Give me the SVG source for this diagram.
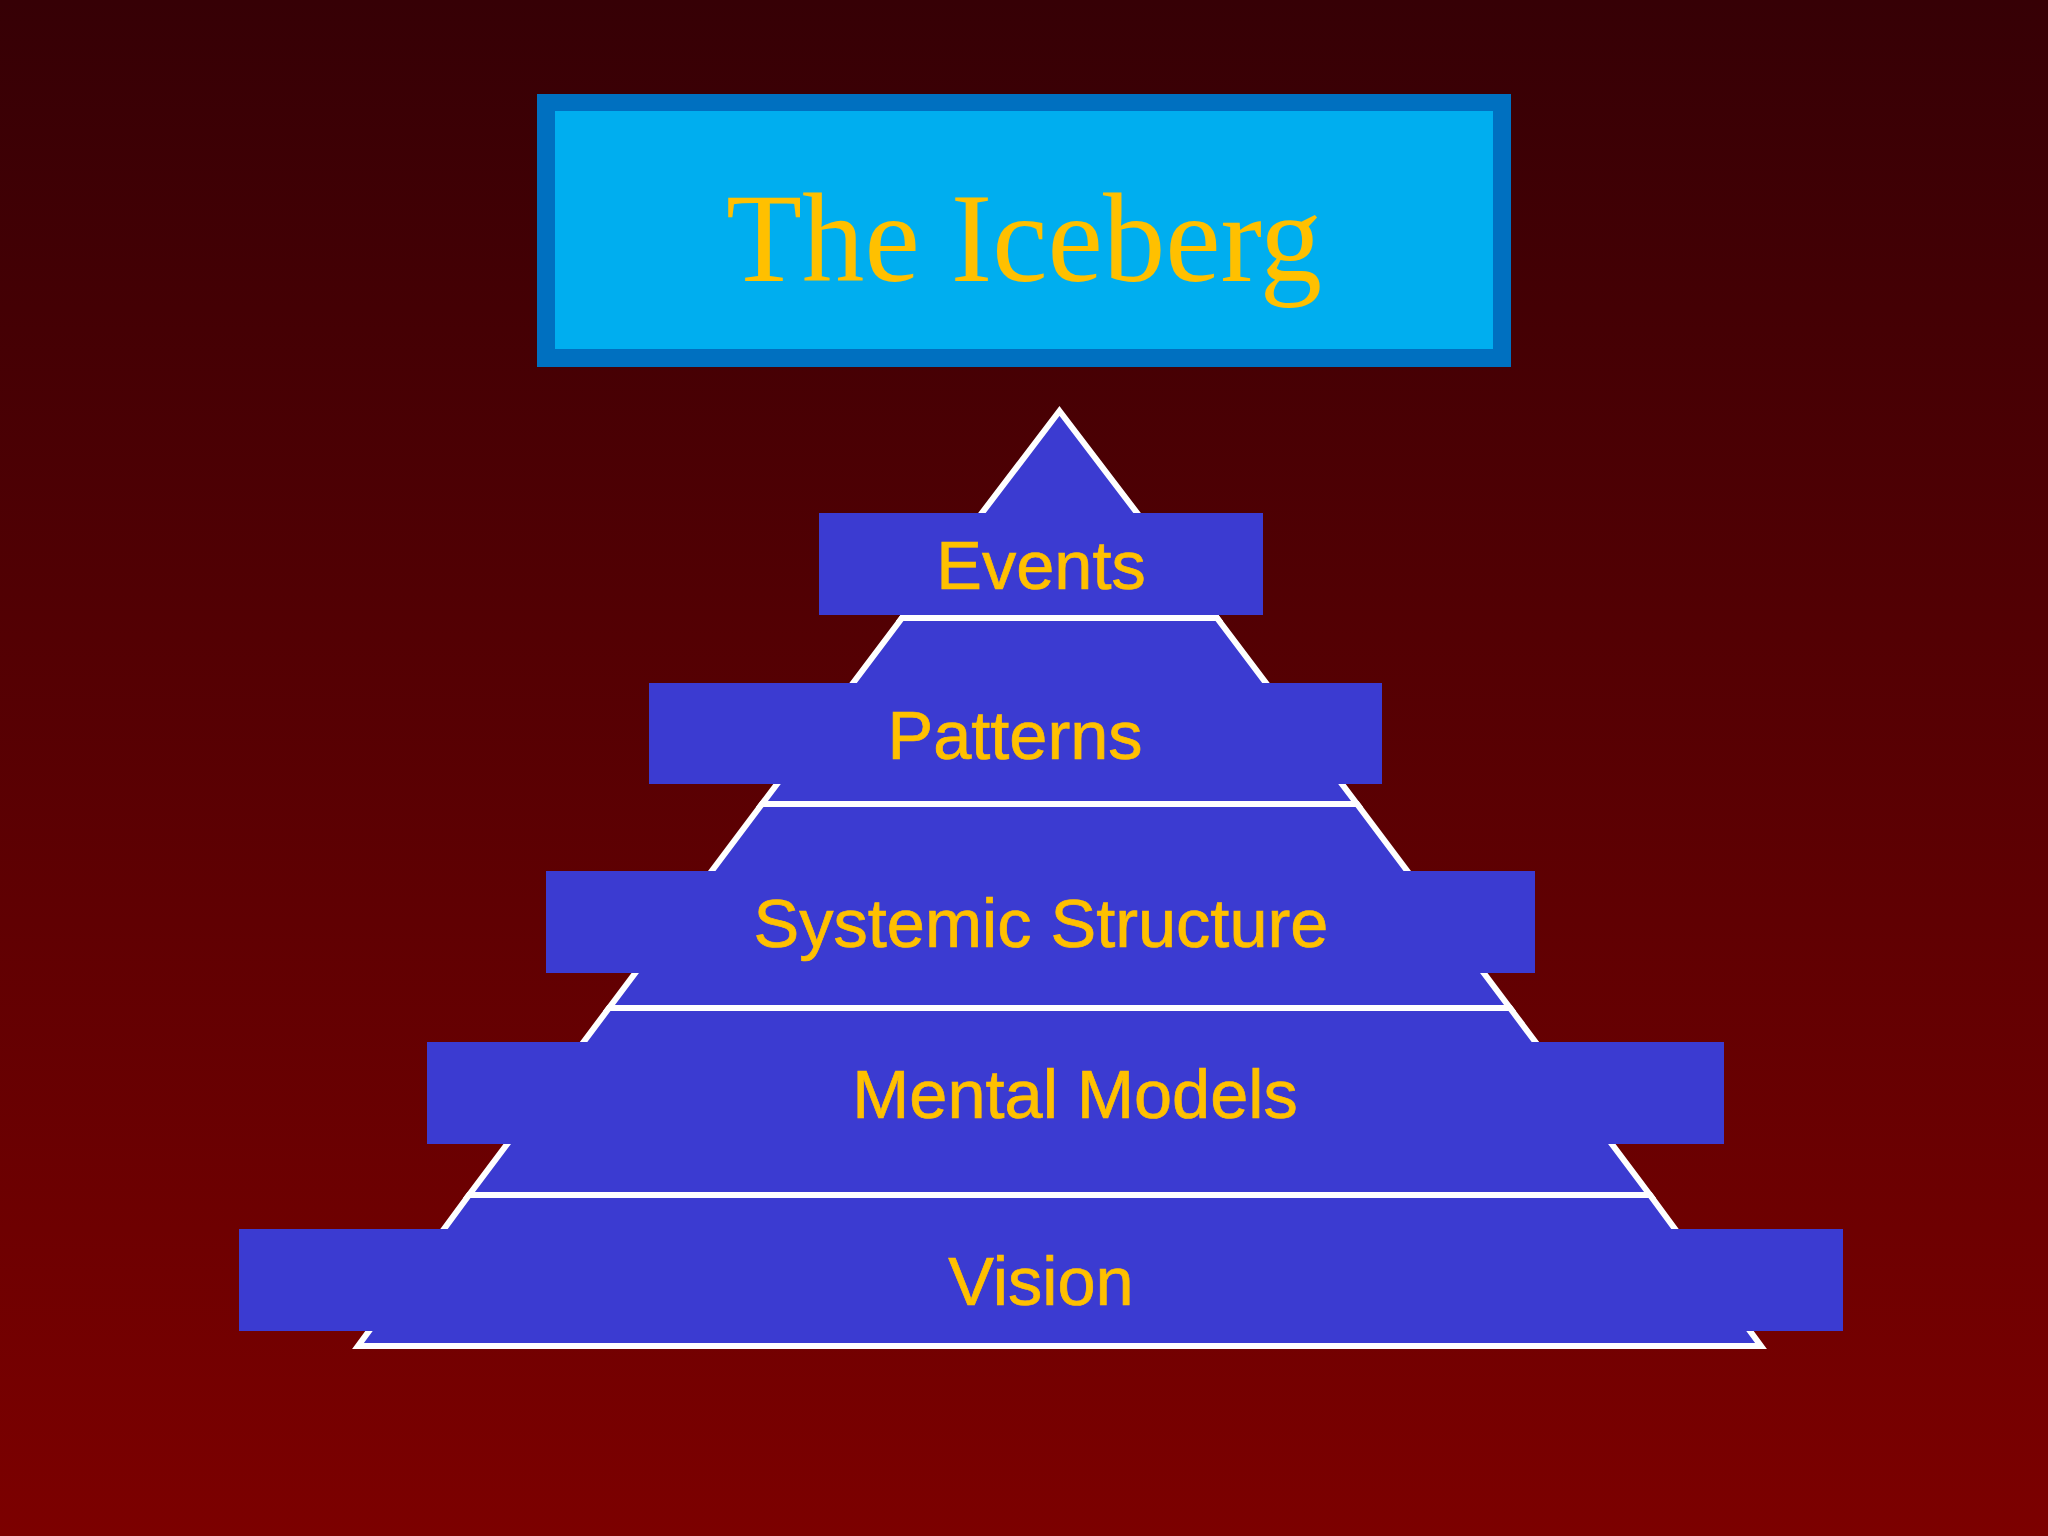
<svg xmlns="http://www.w3.org/2000/svg" width="2048" height="1536" viewBox="0 0 2048 1536">
<defs>
<linearGradient id="bg" x1="0" y1="0" x2="0" y2="1">
<stop offset="0" stop-color="#360005"/>
<stop offset="1" stop-color="#7c0000"/>
</linearGradient>
<style>
.seg{fill:#3b3bd1;stroke:#ffffff;stroke-width:6;stroke-linejoin:miter}
.box{fill:#3b3bd1}
.lbl{font-family:"Liberation Sans",Arial,sans-serif;font-size:68.5px;fill:#ffc000;stroke:#ffc000;stroke-width:0.7;text-anchor:middle}
</style>
</defs>
<rect x="0" y="0" width="2048" height="1536" fill="url(#bg)"/>
<g id="title">
<rect x="537" y="94" width="974" height="273" fill="#0070c0"/>
<rect x="555" y="111" width="938" height="238" fill="#00aeef"/>
<text x="1024" y="281" font-family="'Liberation Serif','Times New Roman',serif" font-size="127" fill="#ffc000" text-anchor="middle" textLength="596" lengthAdjust="spacingAndGlyphs">The Iceberg</text>
</g>
<g id="pyramid">
<polygon class="seg" points="1059.5,411 1217,618 902,618"/>
<polygon class="seg" points="902,618 1217,618 1357,804 762,804"/>
<polygon class="seg" points="762,804 1357,804 1510,1008 609,1008"/>
<polygon class="seg" points="609,1008 1510,1008 1650,1195 469,1195"/>
<polygon class="seg" points="469,1195 1650,1195 1761,1346 358,1346"/>
</g>
<g id="events">
<rect class="box" x="819" y="513" width="444" height="102"/>
<text class="lbl" x="1041" y="589">Events</text>
</g>
<g id="patterns">
<rect class="box" x="649" y="683" width="733" height="101"/>
<text class="lbl" x="1015" y="759">Patterns</text>
</g>
<g id="systemic-structure">
<rect class="box" x="546" y="871" width="989" height="102"/>
<text class="lbl" x="1041" y="947">Systemic Structure</text>
</g>
<g id="mental-models">
<rect class="box" x="427" y="1042" width="1297" height="102"/>
<text class="lbl" x="1075" y="1118">Mental Models</text>
</g>
<g id="vision">
<rect class="box" x="239" y="1229" width="1604" height="102"/>
<text class="lbl" x="1041" y="1305">Vision</text>
</g>
<g id="connectors"/>
</svg>
